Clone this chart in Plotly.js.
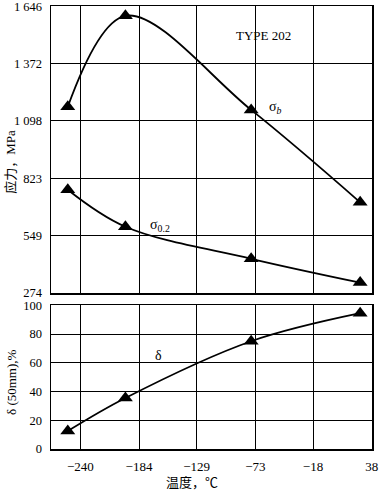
<!DOCTYPE html>
<html>
<head>
<meta charset="utf-8">
<script src="https://cdn.plot.ly/plotly-3.0.1.min.js"></script>
<style>html,body{margin:0;padding:0;background:#fff;}#chart{width:380px;height:490px;}</style>
</head>
<body>
<div id="chart"></div>
<script>
// Temperatures (°C) of the test points
const tempC = [-252, -197, -77, 27];
// Tensile strength sigma_b (MPa)
const sigmaB = [1165, 1600, 1150, 708];
// Yield strength sigma_0.2 (MPa)
const sigma02 = [768, 591, 438, 324];
// Elongation delta (50mm), %
const delta = [12.5, 35.5, 75, 94.5];

const xTickVals = [-240, -184, -129, -73, -18, 38];
const xTickText = ['\u2212240', '\u2212184', '\u2212129', '\u221273', '\u221218', '38'];
const stressTickVals = [274, 549, 823, 1098, 1372, 1646];
const stressTickText = ['274', '549', '823', '1 098', '1 372', '1 646'];
const deltaTickVals = [0, 20, 40, 60, 80, 100];

const FONT = '"Liberation Serif", "Times New Roman", "Noto Sans CJK SC", serif';
const lineStyle = {color: '#000', width: 1.8, shape: 'spline', smoothing: 1};
const markerStyle = {symbol: 'triangle-up', size: 13, color: '#000'};

const traces = [
  {x: tempC, y: sigmaB, xaxis: 'x2', yaxis: 'y2', mode: 'lines+markers', line: lineStyle, marker: markerStyle, showlegend: false, hoverinfo: 'none'},
  {x: tempC, y: sigma02, xaxis: 'x2', yaxis: 'y2', mode: 'lines+markers', line: lineStyle, marker: markerStyle, showlegend: false, hoverinfo: 'none'},
  {x: tempC, y: delta, xaxis: 'x', yaxis: 'y', mode: 'lines+markers', line: lineStyle, marker: markerStyle, showlegend: false, hoverinfo: 'none'}
];

const axisCommon = {
  showline: true, mirror: true, linecolor: '#000', linewidth: 1.5,
  showgrid: true, gridcolor: '#000', gridwidth: 1, zeroline: false,
  ticks: 'outside', tickcolor: 'rgba(0,0,0,0)', ticklabeloverflow: 'allow',
  tickfont: {family: FONT, size: 13, color: '#000'}
};

const layout = {
  width: 380, height: 490,
  margin: {l: 51, r: 8, t: 6, b: 41},
  paper_bgcolor: '#fff', plot_bgcolor: '#fff',
  font: {family: FONT, color: '#000'},
  xaxis: Object.assign({}, axisCommon, {
    range: [-268, 38.3], tickvals: xTickVals, ticktext: xTickText, ticklen: 5,
    domain: [0, 1], anchor: 'y'
  }),
  yaxis: Object.assign({}, axisCommon, {
    range: [0, 100.2], tickvals: deltaTickVals, ticklen: 5,
    tickfont: {family: FONT, size: 12.5, color: '#000'},
    domain: [0, 0.325], anchor: 'x'
  }),
  xaxis2: Object.assign({}, axisCommon, {
    range: [-268, 38.3], tickvals: xTickVals, showticklabels: false, ticklen: 0,
    domain: [0, 1], anchor: 'y2'
  }),
  yaxis2: Object.assign({}, axisCommon, {
    range: [274, 1647], tickvals: stressTickVals, ticktext: stressTickText, ticklen: 5,
    tickfont: {family: FONT, size: 12.5, color: '#000'},
    domain: [0.352, 1], anchor: 'x2'
  }),
  annotations: [
    {text: 'TYPE 202', x: -65, y: 1508, xref: 'x2', yref: 'y2', showarrow: false, font: {family: FONT, size: 13, color: '#000'}},
    {text: '\u03c3<sub><i>b</i></sub>', x: -62, y: 1160, xref: 'x2', yref: 'y2', xanchor: 'left', showarrow: false, font: {family: FONT, size: 14, color: '#000'}},
    {text: '\u03c3<sub>0.2</sub>', x: -175, y: 598, xref: 'x2', yref: 'y2', xanchor: 'left', showarrow: false, font: {family: FONT, size: 14, color: '#000'}},
    {text: '\u03b4', x: -171, y: 65, xref: 'x', yref: 'y', xanchor: 'left', showarrow: false, font: {family: FONT, size: 14, color: '#000'}},
    {text: '应力，MPa', x: -0.125, y: 0.648, xref: 'paper', yref: 'paper', xanchor: 'center', yanchor: 'middle', textangle: -90, showarrow: false, font: {family: FONT, size: 13, color: '#000'}},
    {text: '\u03b4 (50mm),%', x: -0.125, y: 0.151, xref: 'paper', yref: 'paper', xanchor: 'center', yanchor: 'middle', textangle: -90, showarrow: false, font: {family: FONT, size: 13, color: '#000'}},
    {text: '温度，℃', x: 0.44, y: -0.0745, xref: 'paper', yref: 'paper', xanchor: 'center', yanchor: 'middle', showarrow: false, font: {family: FONT, size: 13, color: '#000'}}
  ]
};

Plotly.newPlot('chart', traces, layout, {displayModeBar: false, staticPlot: true});
</script>
</body>
</html>
